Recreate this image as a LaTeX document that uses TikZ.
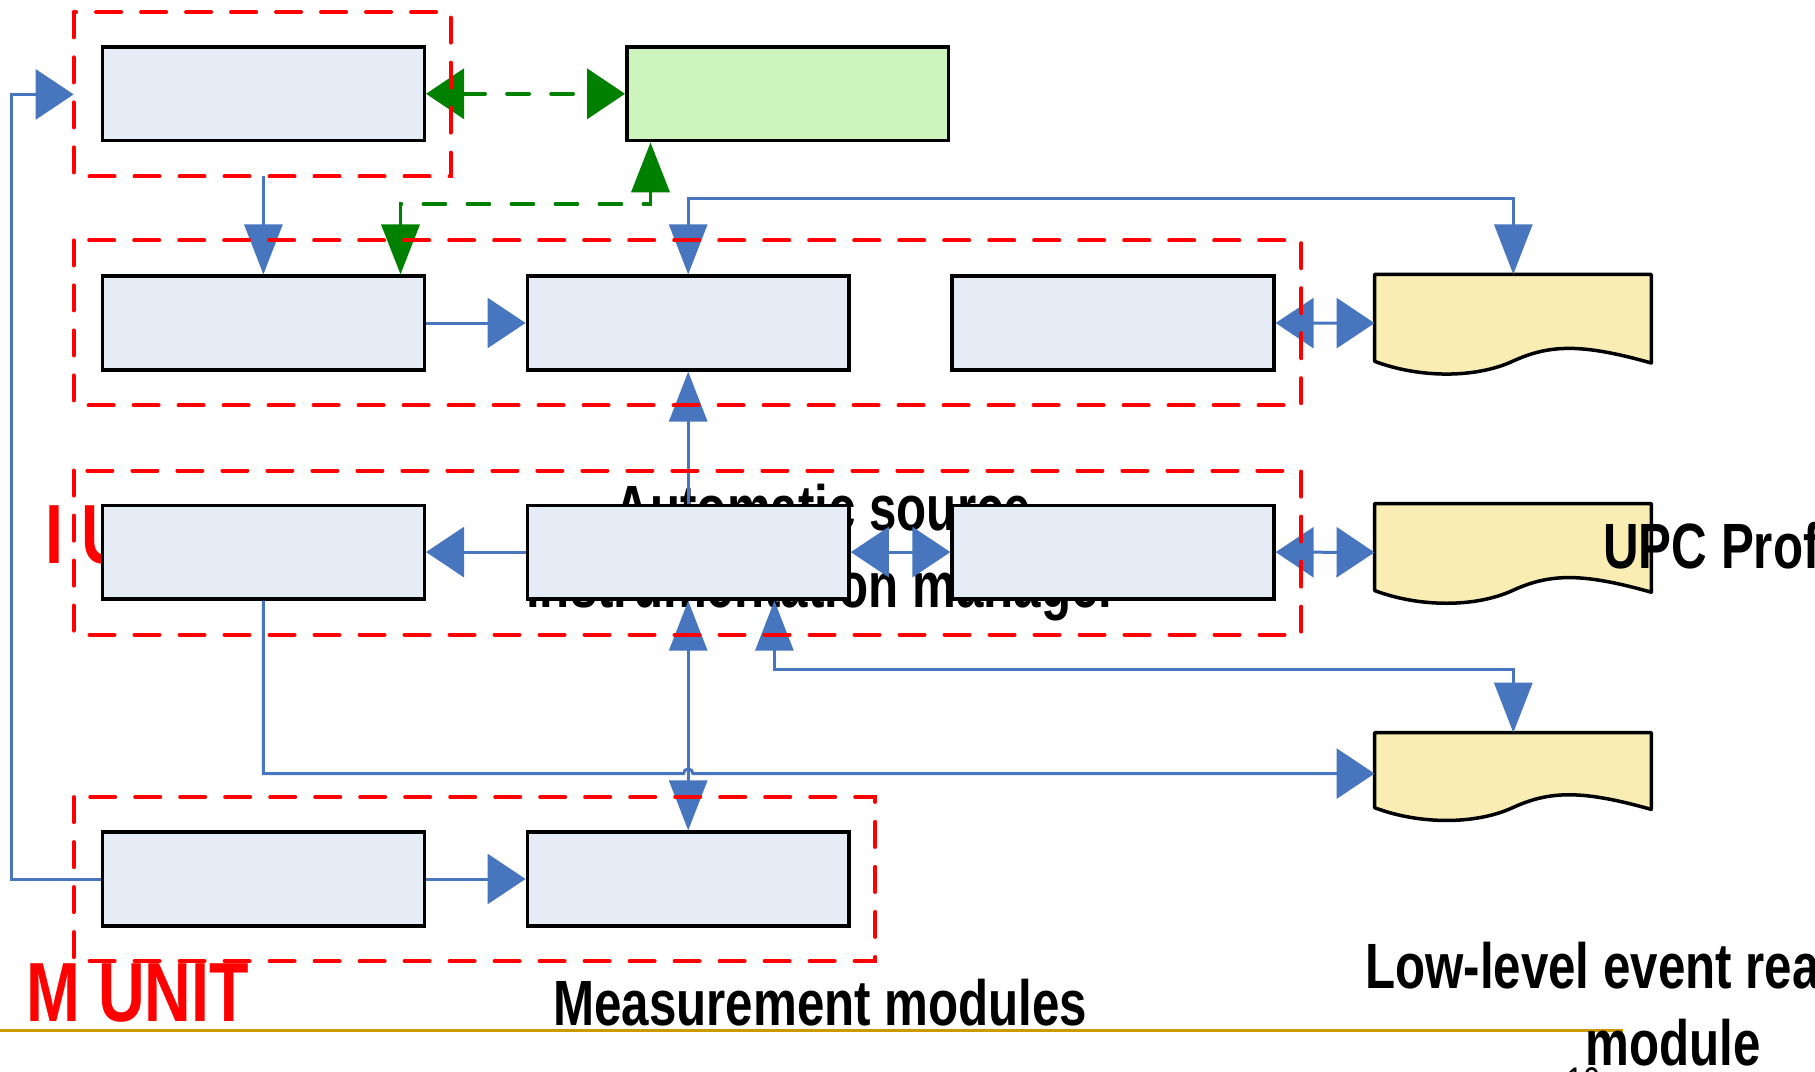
\documentclass[tikz,border=0pt]{standalone}
\usepackage{fontspec}
\usepackage{tikz}
\usetikzlibrary{arrows.meta,calc}

\newfontfamily\slidefont{Liberation Sans}[FakeStretch=0.77]

\definecolor{boxblue}{RGB}{230,236,246}
\definecolor{boxgreen}{RGB}{204,244,188}
\definecolor{docyellow}{RGB}{249,237,180}
\definecolor{linkblue}{RGB}{72,118,190}
\definecolor{linkgreen}{RGB}{0,128,0}
\definecolor{rulegold}{RGB}{204,153,0}

% wavy document outline, hung below an (invisible) node
\newcommand{\docshape}[2]{%
	\begin{scope}[shift={(#1.north west)}]
		\draw[docline] (0,0) -- (276.7,0) -- (276.7,#2+1.7)
			.. controls (207,#2-18) and (175,#2-17) .. (138,#2)
			.. controls (101,#2+17) and (45,#2+17) .. (0,#2) -- cycle;
	\end{scope}}

\begin{document}
\begin{tikzpicture}[x=0.5pt,y=-0.5pt,
	harr/.tip={Triangle[length=19pt,width=25pt]},
	varr/.tip={Triangle[length=25pt,width=19pt]},
	module/.style={draw=black,line width=1.75pt,fill=boxblue,minimum width=160.9pt,minimum height=46.85pt,inner sep=0pt},
	source/.style={module,fill=boxgreen},
	docnode/.style={inner sep=0pt,minimum width=138.35pt,anchor=north},
	docline/.style={draw=black,line width=1.75pt,fill=docyellow,line join=round},
	frame/.style={inner sep=0pt},
	group/.style={draw=red,line width=2pt,dash pattern=on 12.5pt off 10pt,line cap=round},
	link/.style={draw=linkblue,line width=1.5pt},
	glink/.style={draw=linkgreen,line width=1.9pt,dash pattern=on 11pt off 11pt,line cap=round},
	redtext/.style={text=red,inner sep=0pt,font=\slidefont\bfseries\fontsize{42pt}{50pt}\selectfont},
	blacktext/.style={text=black,inner sep=0pt,font=\slidefont\bfseries\fontsize{32pt}{38pt}\selectfont}]

	\fill[white] (0,0) rectangle (1815,1071);
	\useasboundingbox (0,0) rectangle (1815,1071);

	% texts that sit behind the boxes
	\node[redtext,anchor=base west] (ulabel) at (45,563.3) {I U};
	\node[blacktext,anchor=base] (asm1) at (823,530) {Automatic source};
	\node[blacktext,anchor=base] (asm2) at (822,607.7) {instrumentation manager};

	\node[module] (tA) at (263.4,93.8) {};
	\node[source] (tB) at (787.7,93.8) {};

	\node[module] (mA) at (263.4,323) {};
	\node[module] (mB) at (688.2,323) {};
	\node[module] (mC) at (1113,323) {};

	\node[module] (iA) at (263.4,552.1) {};
	\node[module] (iB) at (688.2,552.1) {};
	\node[module] (iC) at (1113,552.1) {};

	\node[module] (bA) at (263.4,879) {};
	\node[module] (bB) at (688.2,879) {};

	\node[docnode,minimum height=48.5pt] (dA) at (1513.3,274.3) {};
	\node[docnode,minimum height=48.5pt] (dB) at (1513.3,503.5) {};
	\node[docnode,minimum height=40.5pt] (dC) at (1513.3,732.7) {};
	\docshape{dA}{87}
	\docshape{dB}{87}
	\docshape{dC}{75}

	\node[frame,minimum width=188.15pt,minimum height=81.65pt] (g1) at (262.2,94.4) {};
	\node[frame,minimum width=613.5pt,minimum height=82.1pt] (g2) at (687.5,322.9) {};
	\node[frame,minimum width=613.5pt,minimum height=81.65pt] (g3) at (687.5,552.65) {};
	\node[frame,minimum width=400.5pt,minimum height=81.6pt] (g4) at (474.5,879.1) {};

	\draw[glink,harr-harr] (tA.east) -- (tB.west);
	\draw[glink,varr-varr] ([xshift=68.55pt]mA.north) -- ++(0,-70.15) -| ([xshift=-68.6pt]tB.south);

	\draw[link,-varr] (g1.south -| mA.north) -- (mA.north);
	\draw[link,varr-varr] (mB.north) -- ++(0,-76) -| (dA.north);
	\draw[link,-harr] (mA.east) -- (mB.west);
	\draw[link,harr-harr] (mC.east) -- (dA.west);

	\draw[link,-varr] (iB.north) -- (mB.south);
	\draw[link,-harr] (iB.west) -- (iA.east);
	\draw[link,harr-harr] (iB.east) -- (iC.west);
	\draw[link,harr-harr] (iC.east) -- (dB.west);

	\draw[link,varr-varr] (iB.south) -- (bB.north);
	\draw[link,varr-varr] ([xshift=43.1pt]iB.south) -- ++(0,69) -| (dC.north);
	\draw[link,-harr] (iA.south) |- ($(bB.north |- dC.west)+(-4.7,0)$)
		arc[start angle=180,end angle=0,radius=2.35pt] -- (dC.west);

	\draw[link,-harr] (bA.west) -- ++(-89.2,0) |- (g1.west);
	\draw[link,-harr] (bA.east) -- (bB.west);

	% dashed frames go over the arrow heads
	\foreach \g in {g1,g2,g3,g4}
		\draw[group] (\g.north west) rectangle (\g.south east);

	\draw[rulegold,line width=1.75pt] (0,1030.7) -- (1622.7,1030.7);

	\node[redtext,anchor=base west] (munit) at (26,1021.7) {M UNIT};
	\node[blacktext,anchor=base west] (upc) at (1603,568.3) {UPC Prof};
	\node[blacktext,anchor=base west] (meas) at (553,1025) {Measurement modules};
	\node[blacktext,anchor=base west] (low1) at (1364.7,988.3) {Low-level event rea};
	\node[blacktext,anchor=base west] (low2) at (1585,1065.7) {module};
	\node[anchor=base west,inner sep=0pt,font=\slidefont\fontsize{20pt}{24pt}\selectfont] (page) at (1566,1095) {10};

\end{tikzpicture}
\end{document}
